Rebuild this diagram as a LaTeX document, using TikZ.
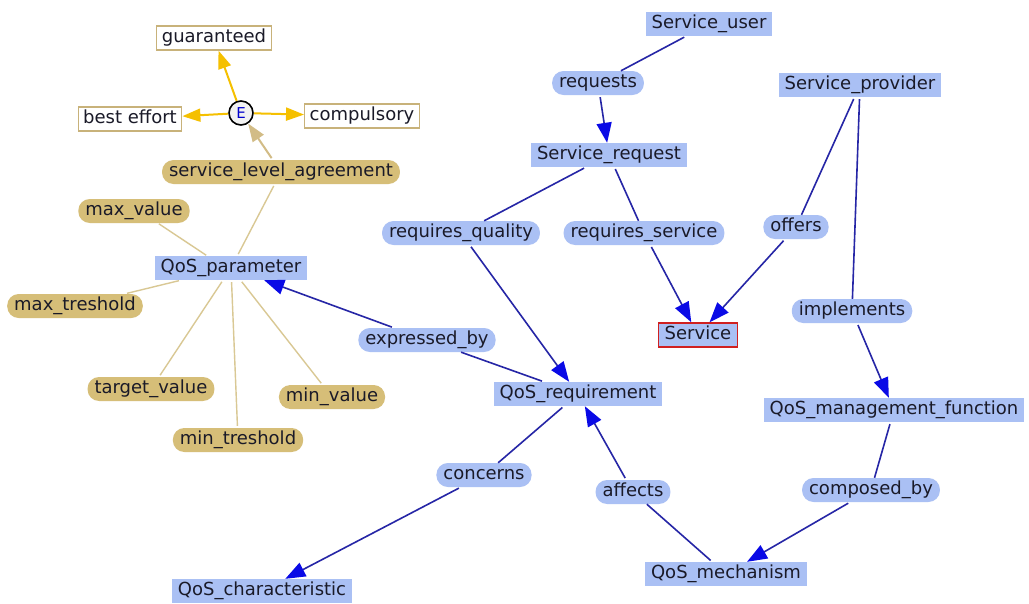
\documentclass[tikz,border=0pt]{standalone}
\usepackage{fontspec}
\setmainfont{DejaVu Sans}
\usetikzlibrary{arrows.meta}
\definecolor{nodeblue}{HTML}{AAC0F4}
\definecolor{pilltan}{HTML}{D6BE78}
\definecolor{linetan}{HTML}{D9C894}
\definecolor{edgeblue}{HTML}{2626A6}
\definecolor{tipblue}{HTML}{0A0AE6}
\definecolor{gold}{HTML}{F5C000}
\definecolor{slatan}{HTML}{D2BC86}
\definecolor{boxtan}{HTML}{C8B27A}
\definecolor{darktext}{HTML}{1A1A28}
\definecolor{svcred}{HTML}{D02020}
\begin{document}
\begin{tikzpicture}[x=1pt,y=-1pt,
 base/.style={font=\fontsize{18}{20}\selectfont, text=darktext, text height=13pt, text depth=4pt, inner ysep=3.5pt, inner xsep=6pt},
 cls/.style={base, fill=nodeblue},
 prop/.style={base, fill=nodeblue, rounded corners=11.5pt, inner xsep=7pt},
 dprop/.style={base, fill=pilltan, rounded corners=11.5pt, inner xsep=7pt},
 ind/.style={base, fill=white, draw=boxtan, line width=1.2pt, inner xsep=5pt},
 rel/.style={edgeblue, line width=1.6pt, shorten <=2pt},
 relarr/.style={rel, -{Triangle[length=20pt,width=15pt,color=tipblue]}},
 dline/.style={linetan, line width=1.4pt, shorten <=2pt, shorten >=2pt},
 garr/.style={gold, line width=2pt, -{Triangle[length=18pt,width=13pt]}},
 sarr/.style={slatan, line width=2pt, shorten <=2pt, -{Triangle[length=18pt,width=13pt]}},
]
\useasboundingbox[fill=white] (0,0) rectangle (1029,603);

% left part
\node[ind] (guar) at (214,38) {guaranteed};
\node[ind] (best) at (130,119) {best effort};
\node[ind] (comp) at (362,116) {compulsory};
\node[circle, draw=black, line width=1.6pt, fill=gray!10, minimum size=24pt, inner sep=0pt,
      font=\fontsize{15}{15}\selectfont, text=blue!80!black] (E) at (241,113) {E};
\node[dprop] (sla) at (281,172) {service\_level\_agreement};
\node[dprop] (maxv) at (134,211) {max\_value};
\node[cls] (qpar) at (231,268) {QoS\_parameter};
\node[dprop] (maxt) at (75,306) {max\_treshold};
\node[dprop] (targ) at (151,389) {target\_value};
\node[dprop] (minv) at (332,397) {min\_value};
\node[dprop] (mint) at (238,440) {min\_treshold};

% right part
\node[cls] (suser) at (709,24) {Service\_user};
\node[prop] (reqs) at (598,83) {requests};
\node[cls] (sreq) at (609,155) {Service\_request};
\node[cls] (sprov) at (860,85) {Service\_provider};
\node[prop] (rqual) at (461,233) {requires\_quality};
\node[prop] (rserv) at (644,233) {requires\_service};
\node[prop] (offers) at (796,227) {offers};
\node[cls, draw=svcred, line width=1.5pt] (serv) at (698,335) {Service};
\node[prop] (impl) at (852,311) {implements};
\node[prop] (expr) at (427,340) {expressed\_by};
\node[cls] (qreq) at (578,394) {QoS\_requirement};
\node[cls] (qmf) at (894,410) {QoS\_management\_function};
\node[prop] (conc) at (484,475) {concerns};
\node[prop] (aff) at (633,492) {affects};
\node[prop] (comp2) at (871,490) {composed\_by};
\node[cls] (qmech) at (726,574) {QoS\_mechanism};
\node[cls] (qchar) at (262,591) {QoS\_characteristic};

% enumeration arrows
\draw[garr] (E) -- (guar);
\draw[garr] (E) -- (best);
\draw[garr] (E) -- (comp);
\draw[sarr] (sla) -- (E);

% datatype property lines
\draw[dline] (qpar) -- (sla);
\draw[dline, shorten <=1pt, shorten >=1pt] ([xshift=-24pt]qpar.north) -- ([xshift=24pt]maxv.south);
\draw[dline] (qpar) -- (maxt);
\draw[dline] (qpar) -- (targ);
\draw[dline] (qpar) -- (mint);
\draw[dline] (qpar) -- (minv);

% object property connectors
\draw[rel] (suser) -- (reqs);
\draw[relarr] (reqs) -- (sreq);
\draw[rel] (sreq) -- (rqual);
\draw[relarr] (rqual) -- (qreq);
\draw[rel] (sreq) -- (rserv);
\draw[relarr] (rserv) -- (serv);
\draw[rel] (sprov) -- (offers);
\draw[relarr] (offers) -- (serv);
\draw[rel] (sprov) -- (impl);
\draw[relarr] (impl) -- (qmf);
\draw[rel] (qreq) -- (expr);
\draw[relarr] (expr) -- (qpar);
\draw[rel] (qreq) -- (conc);
\draw[relarr] (conc) -- (qchar);
\draw[rel] (qmech) -- (aff);
\draw[relarr] (aff) -- (qreq);
\draw[rel] (qmf) -- (comp2);
\draw[relarr] (comp2) -- (qmech);
\end{tikzpicture}
\end{document}
